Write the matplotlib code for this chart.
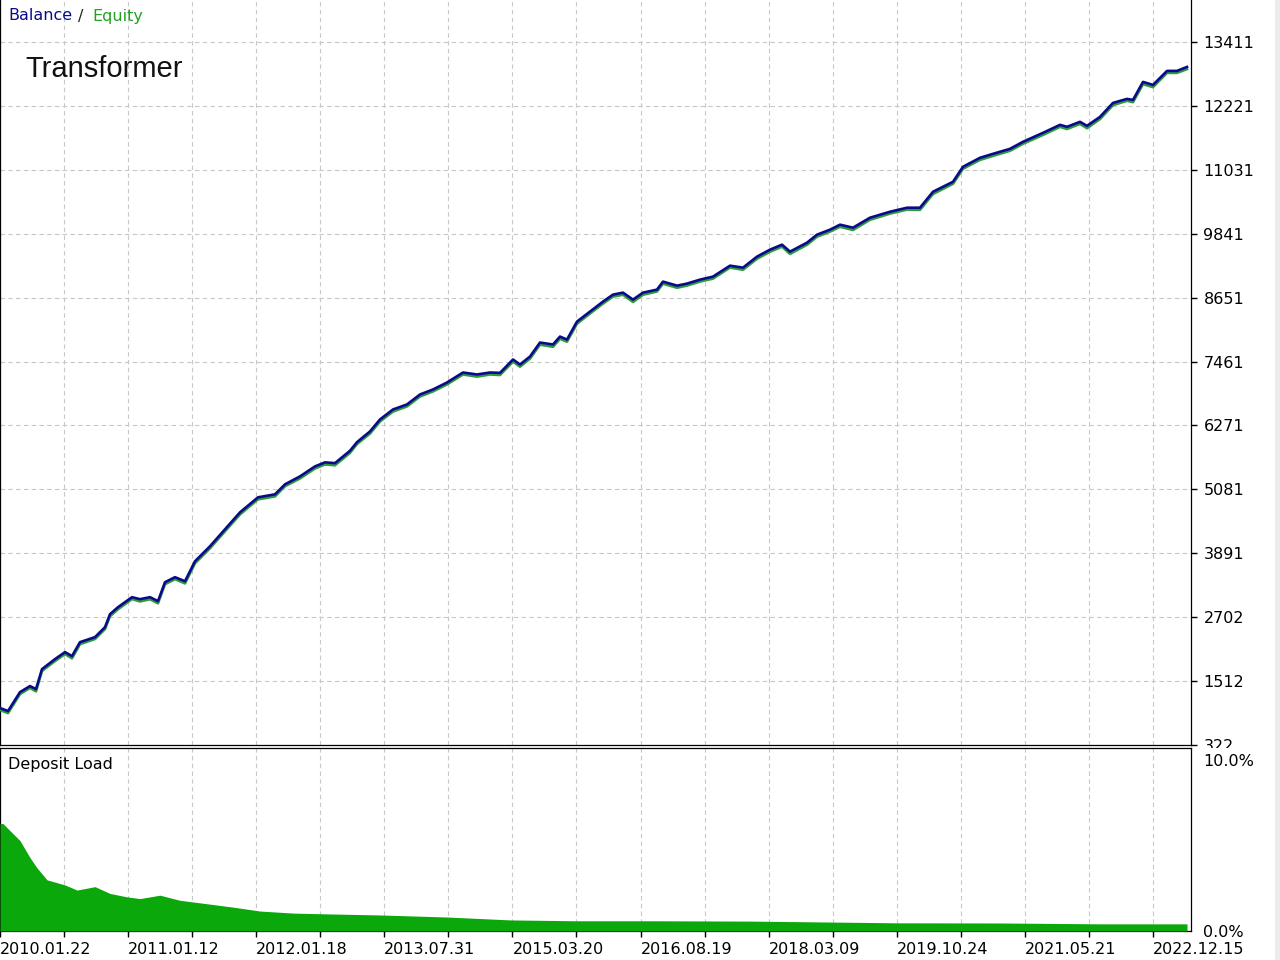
import matplotlib
matplotlib.use('Agg')
import matplotlib.pyplot as plt
from matplotlib.patches import Rectangle

# ---------------- data ----------------
deals = [0, 8, 20, 30, 36, 42, 55, 65, 72, 80, 95, 105, 110, 118, 132, 140, 150, 158,
         165, 175, 185, 195, 210, 225, 240, 258, 275, 285, 300, 315, 325, 335, 350, 357,
         370, 380, 393, 407, 420, 433, 447, 463, 477, 490, 500, 513, 520, 530, 540, 553,
         560, 567, 577, 590, 603, 613, 623, 633, 643, 657, 663, 677, 687, 700, 713, 730,
         743, 757, 770, 782, 790, 807, 817, 830, 840, 853, 870, 890, 907, 920, 933, 953,
         963, 980, 993, 1010, 1023, 1043, 1060, 1067, 1080, 1087, 1100, 1113, 1127, 1133,
         1143, 1153, 1167, 1177, 1187]
balance = [1010, 954, 1307, 1419, 1363, 1735, 1921, 2051, 1977, 2237, 2330, 2516, 2758,
           2888, 3074, 3037, 3074, 3000, 3353, 3446, 3371, 3743, 4022, 4338, 4654, 4933,
           4989, 5175, 5323, 5509, 5584, 5570, 5800, 5960, 6160, 6383, 6569, 6662, 6848,
           6941, 7071, 7257, 7220, 7257, 7250, 7499, 7406, 7554, 7815, 7778, 7926, 7870,
           8205, 8391, 8577, 8707, 8744, 8614, 8744, 8800, 8949, 8874, 8912, 8986, 9042,
           9246, 9209, 9414, 9544, 9637, 9507, 9674, 9823, 9916, 10009, 9953, 10139, 10250,
           10325, 10325, 10622, 10808, 11087, 11254, 11328, 11421, 11552, 11719, 11868,
           11831, 11924, 11849, 12016, 12276, 12351, 12332, 12667, 12611, 12872, 12872, 12946]
equity = [975, 915, 1270, 1385, 1320, 1700, 1885, 2015, 1935, 2200, 2295, 2480, 2720,
          2850, 3040, 2995, 3035, 2960, 3315, 3410, 3330, 3705, 3985, 4300, 4615, 4895,
          4950, 5140, 5285, 5470, 5545, 5530, 5760, 5925, 6120, 6345, 6530, 6625, 6810,
          6905, 7035, 7220, 7180, 7220, 7210, 7460, 7365, 7515, 7775, 7735, 7885, 7830,
          8165, 8355, 8540, 8670, 8705, 8570, 8705, 8765, 8910, 8835, 8875, 8950, 9005,
          9210, 9170, 9375, 9505, 9600, 9465, 9635, 9785, 9880, 9970, 9910, 10100, 10215,
          10290, 10285, 10580, 10770, 11050, 11215, 11290, 11385, 11515, 11680, 11830,
          11790, 11885, 11805, 11975, 12235, 12315, 12290, 12625, 12570, 12835, 12835, 12905]

load_deals = [0, 3, 8, 20, 30, 37, 47, 65, 77, 95, 110, 127, 140, 160, 180, 200, 233,
              260, 293, 330, 380, 447, 510, 574, 650, 750, 896, 1000, 1100, 1187]
deposit_load = [6.3, 6.3, 6.0, 5.3, 4.3, 3.7, 3.0, 2.7, 2.4, 2.6, 2.2, 2.0, 1.9, 2.1,
                1.8, 1.65, 1.4, 1.17, 1.05, 1.0, 0.94, 0.82, 0.65, 0.6, 0.6, 0.58, 0.48,
                0.47, 0.42, 0.42]

balance_ticks = [322, 1512, 2702, 3891, 5081, 6271, 7461, 8651, 9841, 11031, 12221, 13411]
load_ticks = [0.0, 10.0]
load_tick_labels = ['0.0%', '10.0%']
date_labels = ['2010.01.22', '2011.01.12', '2012.01.18', '2013.07.31', '2015.03.20',
               '2016.08.19', '2018.03.09', '2019.10.24', '2021.05.21', '2022.12.15']

# ---------------- layout ----------------
W, H = 1280, 960
fig = plt.figure(figsize=(12.8, 9.6), dpi=100)
fig.patch.set_facecolor('white')


def fx(px):
    return px / W


def fy(py):
    return 1 - py / H


ax = fig.add_axes([0, fy(745), fx(1191), fy(0) - fy(745)], zorder=0)
ax2 = fig.add_axes([0, fy(931), fx(1191), fy(748.5) - fy(931)], zorder=2)

XMAX = 1191
step = 64.05
grid_x = [k * step for k in range(0, 19)]
major_x = grid_x[0::2]
minor_x = grid_x[1::2]

grid_kw = dict(color='#c8c8c8', linestyle=(0, (4, 3)), linewidth=0.8)

# main panel
ax.plot(deals, equity, color='#2E9B3E', linewidth=1.9, solid_joinstyle='round', zorder=3)
ax.plot(deals, balance, color='#0A0A8A', linewidth=1.9, solid_joinstyle='round', zorder=4)
ax.set_xlim(0, XMAX)
ax.set_ylim(322 + 1 * 18.59, 14192)
ax.set_xticks(grid_x)
ax.tick_params(axis='x', length=0, labelbottom=False)
ax.yaxis.tick_right()
ax.set_yticks(balance_ticks)
ax.set_yticklabels([str(v) for v in balance_ticks])
ax.tick_params(axis='y', direction='out', length=4, width=1, pad=5, labelsize=11.5,
               colors='black')
ax.grid(True, **grid_kw)
ax.set_axisbelow(True)
ax.spines['top'].set_visible(False)
for s in ['left', 'right', 'bottom']:
    ax.spines[s].set_linewidth(0.9)
    ax.spines[s].set_color('black')

# deposit load panel
ax2.fill_between(load_deals, deposit_load, 0, color='#0AA80A', linewidth=0, zorder=3)
ax2.set_xlim(0, XMAX)
ax2.set_ylim(0, 10.7)
ax2.set_xticks(major_x)
ax2.set_xticks(minor_x, minor=True)
ax2.set_xticklabels(date_labels, ha='left')
ax2.tick_params(axis='x', which='both', direction='out', length=4, width=1, pad=4,
                labelsize=11.5)
ax2.grid(True, axis='x', which='both', **grid_kw)
ax2.set_axisbelow(True)
ax2.yaxis.tick_right()
ax2.set_yticks(load_ticks)
ax2.set_yticklabels(load_tick_labels)
ax2.tick_params(axis='y', length=0, pad=9, labelsize=11.5)
for lbl in ax2.get_yticklabels():
    lbl.set_bbox(dict(facecolor='white', edgecolor='none', pad=0))
for s in ['left', 'right', 'bottom', 'top']:
    ax2.spines[s].set_linewidth(0.9)
    ax2.spines[s].set_color('black')

# cover lower half of the "322" label (clipped in original)
fig.patches.append(Rectangle((fx(1192), fy(760)), fx(1274) - fx(1192), fy(747.5) - fy(760),
                             transform=fig.transFigure, facecolor='white', edgecolor='none',
                             zorder=1))
# light strip at the far right edge
fig.patches.append(Rectangle((fx(1275), 0), fx(5), 1, transform=fig.transFigure,
                             facecolor='#ececec', edgecolor='none', zorder=1))

# texts
fig.text(fx(8), fy(16), 'Balance', color='#0A0A8A', fontsize=11.5, va='center', ha='left')
fig.text(fx(78), fy(16), '/', color='#222222', fontsize=11.5, va='center', ha='left')
fig.text(fx(92), fy(16), 'Equity', color='#22A022', fontsize=11.5, va='center', ha='left')
fig.text(fx(25), fy(69), 'Transformer', fontsize=21, family='Liberation Sans',
         va='center', ha='left', color='#111111')
fig.text(fx(8), fy(764), 'Deposit Load', fontsize=11.5, va='center', ha='left',
         color='black', zorder=5)

fig.savefig('out.png', dpi=100, facecolor='white')
